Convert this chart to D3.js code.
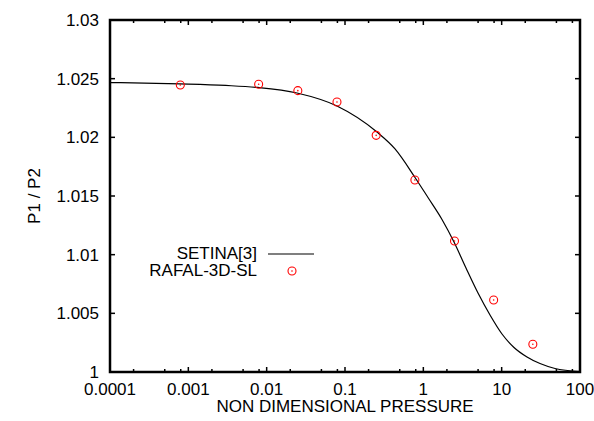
<!DOCTYPE html>
<html>
<head>
<meta charset="utf-8">
<script src="https://cdn.jsdelivr.net/npm/d3@7"></script>
<style>
  body { margin: 0; background: #fff; }
  text { font-family: "Liberation Sans", Arial, sans-serif; font-size: 17px; fill: #000; }
</style>
</head>
<body>
<svg width="594" height="421"></svg>
<script>
// SETINA[3] curve
var curveX = [0.0001, 0.00078, 0.003, 0.00775, 0.0244, 0.079, 0.256, 0.435, 0.783, 1.147, 1.731, 2.463, 3.505, 4.988, 7.098, 10.1, 14.37, 21.06, 30.86, 47.97, 100];
var curveY = [1.02467, 1.02455, 1.02442, 1.02425, 1.02378, 1.02267, 1.02045, 1.01901, 1.01658, 1.01487, 1.01300, 1.01108, 1.00886, 1.00673, 1.00486, 1.00324, 1.00209, 1.00128, 1.00072, 1.00030, 1.00004];

// RAFAL-3D-SL points
var pointX = [0.00079, 0.0079, 0.025, 0.079, 0.25, 0.78, 2.5, 7.9, 25];
var pointY = [1.02446, 1.02452, 1.02398, 1.02301, 1.02017, 1.01636, 1.01116, 1.00613, 1.00236];

var xTicks = [0.0001, 0.001, 0.01, 0.1, 1, 10, 100];
var xTickLabels = ["0.0001", "0.001", "0.01", "0.1", "1", "10", "100"];
var yTicks = [1, 1.005, 1.01, 1.015, 1.02, 1.025, 1.03];
var yTickLabels = ["1", "1.005", "1.01", "1.015", "1.02", "1.025", "1.03"];
var minorMult = [2, 5, 8];

var svg = d3.select("svg");
var m = {left: 110, right: 580, top: 20, bottom: 372};

var x = d3.scaleLog().domain([0.0001, 100]).range([m.left, m.right]);
var y = d3.scaleLinear().domain([1, 1.03]).range([m.bottom, m.top]);

// ticks (gnuplot style, inward on all four sides)
var g = svg.append("g").attr("stroke", "#000").attr("stroke-width", 1.5);
xTicks.forEach(function(t) {
  g.append("line").attr("x1", x(t)).attr("x2", x(t)).attr("y1", m.bottom).attr("y2", m.bottom - 5);
  g.append("line").attr("x1", x(t)).attr("x2", x(t)).attr("y1", m.top).attr("y2", m.top + 5);
});
xTicks.slice(0, -1).forEach(function(t) {
  minorMult.forEach(function(k) {
    var v = t * k;
    g.append("line").attr("x1", x(v)).attr("x2", x(v)).attr("y1", m.bottom).attr("y2", m.bottom - 3);
    g.append("line").attr("x1", x(v)).attr("x2", x(v)).attr("y1", m.top).attr("y2", m.top + 3);
  });
});
yTicks.forEach(function(t) {
  g.append("line").attr("x1", m.left).attr("x2", m.left + 5).attr("y1", y(t)).attr("y2", y(t));
  g.append("line").attr("x1", m.right).attr("x2", m.right - 5).attr("y1", y(t)).attr("y2", y(t));
});

// tick labels
svg.selectAll(".xl").data(xTicks).enter().append("text")
  .attr("x", function(d) { return x(d); })
  .attr("y", 395)
  .attr("text-anchor", "middle")
  .text(function(d, i) { return xTickLabels[i]; });

svg.selectAll(".yl").data(yTicks).enter().append("text")
  .attr("x", 99)
  .attr("y", function(d) { return y(d) + 6; })
  .attr("text-anchor", "end")
  .text(function(d, i) { return yTickLabels[i]; });

// axis titles
svg.append("text").attr("x", (m.left + m.right) / 2).attr("y", 412)
  .attr("text-anchor", "middle").text("NON DIMENSIONAL PRESSURE");
svg.append("text").attr("transform", "translate(40," + ((m.top + m.bottom) / 2) + ") rotate(-90)")
  .attr("text-anchor", "middle").text("P1 / P2");

// curve
var line = d3.line()
  .x(function(d) { return x(d[0]); })
  .y(function(d) { return y(d[1]); })
  .curve(d3.curveMonotoneX);
svg.append("path")
  .datum(d3.zip(curveX, curveY))
  .attr("d", line)
  .attr("fill", "none")
  .attr("stroke", "#000")
  .attr("stroke-width", 1.2);

// points
var marker = function(sel) {
  sel.append("circle").attr("r", 4).attr("fill", "none").attr("stroke", "#f00").attr("stroke-width", 1.1);
  sel.append("circle").attr("r", 0.8).attr("fill", "#f00");
};
svg.selectAll(".pt").data(d3.zip(pointX, pointY)).enter().append("g")
  .attr("transform", function(d) { return "translate(" + x(d[0]) + "," + y(d[1]) + ")"; })
  .call(marker);

// legend
svg.append("text").attr("x", 257).attr("y", 259).attr("text-anchor", "end").text("SETINA[3]");
svg.append("line").attr("x1", 268).attr("x2", 314).attr("y1", 254).attr("y2", 254)
  .attr("stroke", "#000").attr("stroke-width", 1.2);
svg.append("text").attr("x", 257).attr("y", 276).attr("text-anchor", "end").text("RAFAL-3D-SL");
svg.append("g").attr("transform", "translate(292,271)").call(marker);

// frame
svg.append("rect").attr("x", m.left).attr("y", m.top).attr("width", m.right - m.left).attr("height", m.bottom - m.top)
  .attr("fill", "none").attr("stroke", "#000").attr("stroke-width", 2.5);
</script>
</body>
</html>
